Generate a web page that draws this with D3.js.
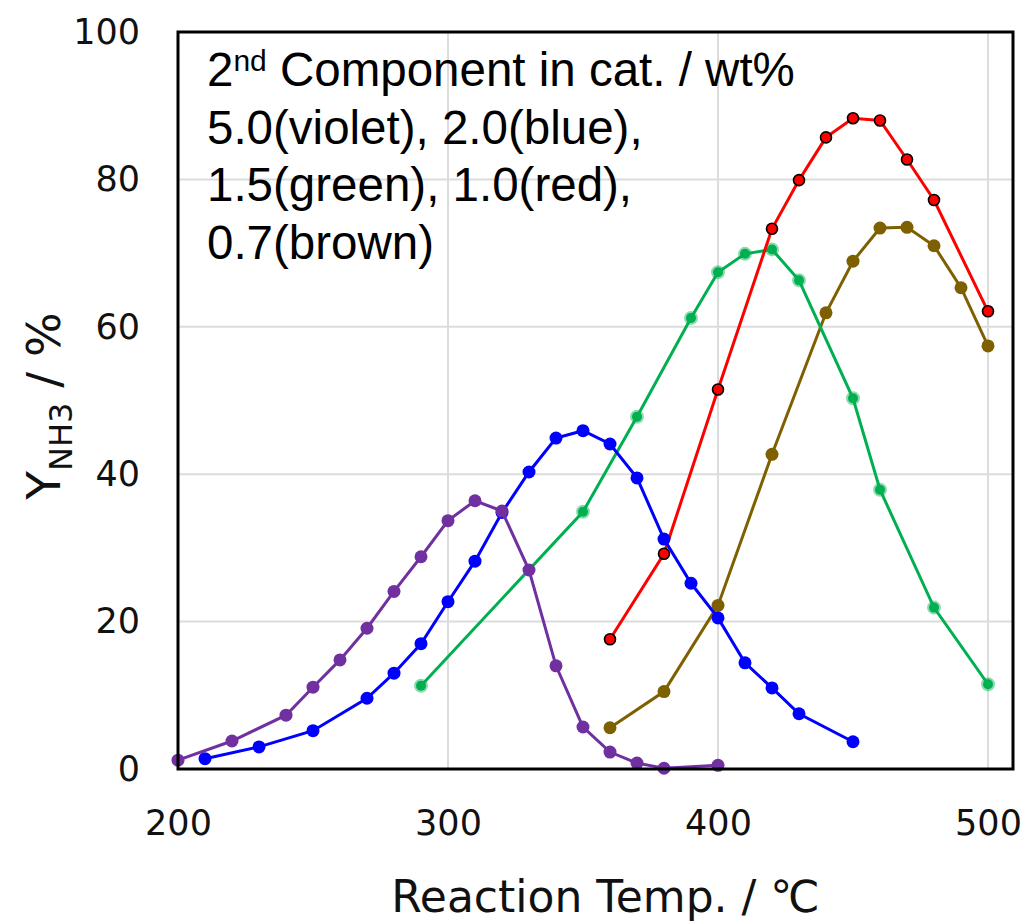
<!DOCTYPE html>
<html>
<head>
<meta charset="utf-8">
<script src="https://cdn.jsdelivr.net/npm/d3@7"></script>
<style>
  body { margin: 0; background: #fff; }
  .tick text { font-family: "DejaVu Sans", Verdana, sans-serif; fill: #111; }
  .grid line { stroke: #dcdcdc; stroke-width: 2; }
  .series path { fill: none; stroke-width: 3; }
</style>
</head>
<body>
<script>
// NH3 yield vs reaction temperature, one series per loading of the 2nd component
const violetT = [200,220,240,250,260,270,280,290,300,310,320,330,340,350,360,370,380,400]
const violetY = [1.2,3.8,7.3,11.1,14.8,19.1,24.1,28.8,33.7,36.4,35.0,27.0,14.0,5.7,2.3,0.8,0.1,0.5]

const blueT = [210,230,250,270,280,290,300,310,320,330,340,350,360,370,380,390,400,410,420,430,450]
const blueY = [1.4,3.0,5.2,9.6,13.0,17.0,22.7,28.2,34.8,40.3,44.9,45.9,44.1,39.5,31.2,25.2,20.5,14.4,11.0,7.5,3.7]

const greenT = [290,350,370,390,400,410,420,430,450,460,480,500]
const greenY = [11.3,34.9,47.8,61.2,67.4,69.9,70.5,66.3,50.3,37.9,21.9,11.5]

const redT = [360,380,400,420,430,440,450,460,470,480,500]
const redY = [17.6,29.2,51.5,73.3,79.9,85.7,88.3,88.0,82.7,77.2,62.1]

const brownT = [360,380,400,420,440,450,460,470,480,490,500]
const brownY = [5.6,10.5,22.2,42.7,61.9,68.9,73.4,73.5,71.0,65.3,57.4]

const xTicks = [200,300,400,500]
const yTicks = [0,20,40,60,80,100]
const noteLines = ['5.0(violet), 2.0(blue),', '1.5(green), 1.0(red),', '0.7(brown)']

let width = 1027
let height = 924

let svg = d3.select('body')
    .append('svg')
    .attr('width', width)
    .attr('height', height)

let x = d3.scaleLinear().domain([200, 500]).range([178, 988])
let y = d3.scaleLinear().domain([0, 100]).range([769, 32])
let frameRight = x(500) + 25

// gridlines
let grid = svg.append('g').attr('class', 'grid')
grid.selectAll('line.gx').data(xTicks.slice(1))
    .join('line').attr('class', 'gx')
    .attr('x1', d => x(d)).attr('x2', d => x(d))
    .attr('y1', y(100)).attr('y2', y(0))
grid.selectAll('line.gy').data(yTicks.slice(1, -1))
    .join('line').attr('class', 'gy')
    .attr('x1', x(200)).attr('x2', frameRight)
    .attr('y1', d => y(d)).attr('y2', d => y(d))

// axes (labels only)
let xAxis = svg.append('g')
    .attr('transform', `translate(0,${y(0)})`)
    .call(d3.axisBottom(x).tickValues(xTicks).tickSize(0).tickPadding(41))
let yAxis = svg.append('g')
    .attr('transform', `translate(${x(200)},0)`)
    .call(d3.axisLeft(y).tickValues(yTicks).tickSize(0).tickPadding(38))
xAxis.select('.domain').remove()
yAxis.select('.domain').remove()
xAxis.selectAll('text').style('font-size', '35px')
yAxis.selectAll('text').style('font-size', '35px')

let series = [
  { T: brownT,  Y: brownY,  color: '#7f6000', r: 6.5 },
  { T: greenT,  Y: greenY,  color: '#00b050', r: 5, halo: true },
  { T: redT,    Y: redY,    color: '#ff0000', r: 5.5, outline: true },
  { T: blueT,   Y: blueY,   color: '#0000ff', r: 6.5 },
  { T: violetT, Y: violetY, color: '#7030a0', r: 6.5 }
]

let line = d3.line().x(d => x(d[0])).y(d => y(d[1]))

series.forEach(s => {
  let pts = s.T.map((t, i) => [t, s.Y[i]])
  let g = svg.append('g').attr('class', 'series')
  g.append('path').datum(pts).attr('d', line).attr('stroke', s.color)
  g.selectAll('circle').data(pts).join('circle')
    .attr('cx', d => x(d[0]))
    .attr('cy', d => y(d[1]))
    .attr('r', s.r)
    .attr('fill', s.color)
    .attr('stroke', s.outline ? '#000' : (s.halo ? 'rgba(0,176,80,0.45)' : 'none'))
    .attr('stroke-width', s.outline ? 1.6 : (s.halo ? 4 : 0))
})

// frame
svg.append('rect')
    .attr('x', x(200)).attr('y', y(100))
    .attr('width', frameRight - x(200)).attr('height', y(0) - y(100))
    .attr('fill', 'none').attr('stroke', '#000').attr('stroke-width', 3)

// note inside the plot
let note = svg.append('text')
    .attr('x', 207).attr('y', 86)
    .style('font-family', '"Liberation Sans", Arial, sans-serif')
    .style('font-size', '47.5px')
    .attr('fill', '#000')
note.append('tspan').text('2')
note.append('tspan').text('nd').style('font-size', '30px').attr('dy', -15)
note.append('tspan').text(' Component in cat. / wt%').attr('dy', 15)
noteLines.forEach((t, i) => {
  note.append('tspan').attr('x', 207).attr('y', 86 + 57.5 * (i + 1)).text(t)
})

// axis titles
svg.append('text')
    .attr('x', (x(200) + frameRight) / 2 + 10).attr('y', 912)
    .attr('text-anchor', 'middle')
    .style('font-family', '"DejaVu Sans", Verdana, sans-serif')
    .style('font-size', '44px')
    .attr('fill', '#111')
    .text('Reaction Temp. / ℃')

let yt = svg.append('text')
    .attr('transform', 'translate(60,406) rotate(-90)')
    .attr('text-anchor', 'middle')
    .style('font-family', '"DejaVu Sans", Verdana, sans-serif')
    .style('font-size', '47px')
    .attr('fill', '#111')
yt.append('tspan').text('Y')
yt.append('tspan').text('NH3').style('font-size', '32px').attr('dy', 12)
yt.append('tspan').text(' / %').attr('dy', -12)
</script>
</body>
</html>
